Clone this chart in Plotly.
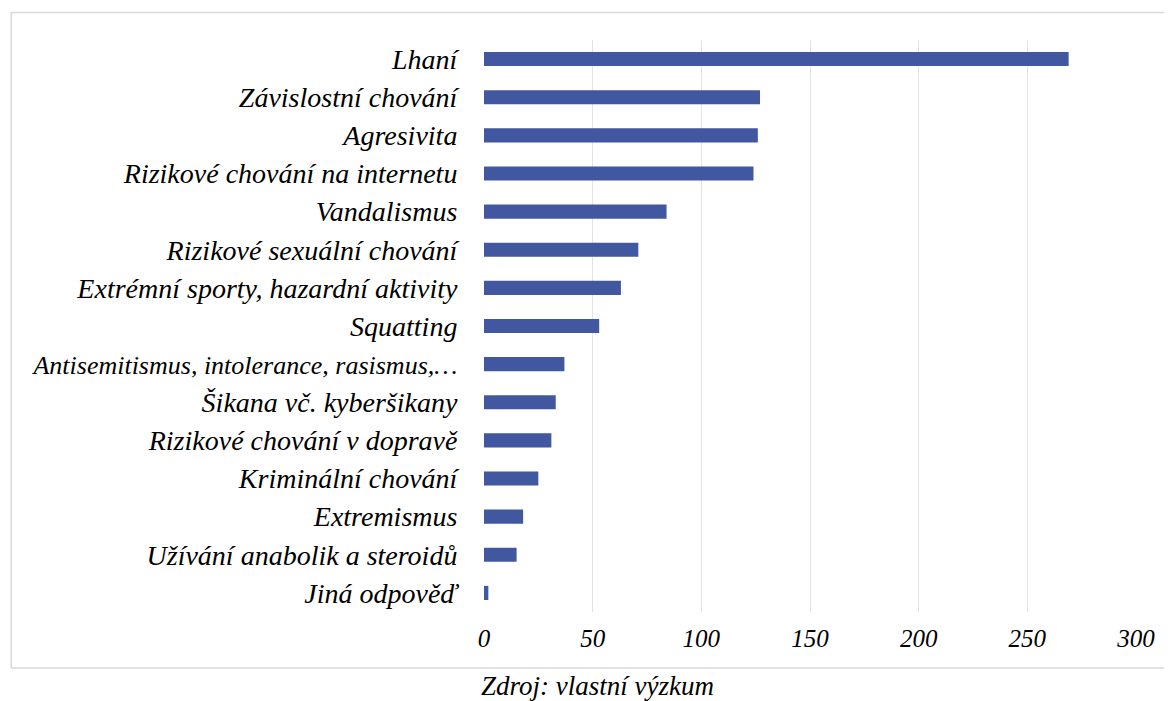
import plotly.graph_objects as go

categories = [
    "Lhaní",
    "Závislostní chování",
    "Agresivita",
    "Rizikové chování na internetu",
    "Vandalismus",
    "Rizikové sexuální chování",
    "Extrémní sporty, hazardní aktivity",
    "Squatting",
    "Antisemitismus, intolerance, rasismus,…",
    "Šikana vč. kyberšikany",
    "Rizikové chování v dopravě",
    "Kriminální chování",
    "Extremismus",
    "Užívání anabolik a steroidů",
    "Jiná odpověď",
]
values = [269, 127, 126, 124, 84, 71, 63, 53, 37, 33, 31, 25, 18, 15, 2]
x_ticks = [0, 50, 100, 150, 200, 250, 300]
source_text = "Zdroj: vlastní výzkum"

# page has an 8px body margin; work in screen pixels and convert
OFF = 8
W, H = 1172 - OFF, 701 - OFF
L, R, T, B = 483.6 - OFF, 1136 - OFF, 40 - OFF, 612 - OFF

FONT = "Liberation Serif"
FS_LABEL = 28
FS_LONG = 26
FS_TICK = 25
FS_CAPTION = 27

fig = go.Figure(
    go.Bar(
        x=values,
        y=categories,
        orientation="h",
        marker=dict(color="#4157A0", line=dict(width=0)),
        width=0.37,
    )
)

def px_x(p):
    return (p - OFF - L) / (R - L)

def px_y(p):
    return (B - (p - OFF)) / (B - T)

def label_html(c):
    if len(c) > 36:
        return f'<span style="font-size:{FS_LONG}px"><i>{c}</i></span>'
    return f"<i>{c}</i>"

fig.update_layout(
    width=W,
    height=H,
    margin=dict(l=L, r=W - R, t=T, b=H - B, autoexpand=False),
    paper_bgcolor="white",
    plot_bgcolor="white",
    showlegend=False,
    xaxis=dict(
        range=[0, 300],
        tickvals=x_ticks,
        ticktext=[f"<i>{v}</i>" for v in x_ticks],
        showgrid=True,
        gridcolor="#E3E3E3",
        gridwidth=1,
        zeroline=False,
        showline=False,
        ticks="outside",
        ticklen=4,
        tickcolor="rgba(0,0,0,0)",
        tickfont=dict(family=FONT, size=FS_TICK, color="#000000"),
        automargin=False,
    ),
    yaxis=dict(
        categoryorder="array",
        categoryarray=categories[::-1],
        tickvals=categories,
        ticktext=[label_html(c) for c in categories],
        showgrid=False,
        zeroline=False,
        showline=False,
        ticks="outside",
        ticklen=20,
        tickcolor="rgba(0,0,0,0)",
        tickfont=dict(family=FONT, size=FS_LABEL, color="#000000"),
        range=[-0.5, len(categories) - 0.5],
        automargin=False,
    ),
    shapes=[
        dict(
            type="rect",
            xref="paper",
            yref="paper",
            x0=px_x(10.5),
            x1=px_x(1190),
            y0=px_y(668),
            y1=px_y(12.5),
            line=dict(color="#D9D9D9", width=1.5),
            fillcolor="rgba(0,0,0,0)",
            layer="below",
        )
    ],
    annotations=[
        dict(
            text=f"<i>{source_text}</i>",
            xref="paper",
            yref="paper",
            x=px_x(597),
            y=px_y(686),
            showarrow=False,
            xanchor="center",
            yanchor="middle",
            font=dict(family=FONT, size=FS_CAPTION, color="#000000"),
        )
    ],
)

fig.write_html("out.html")
